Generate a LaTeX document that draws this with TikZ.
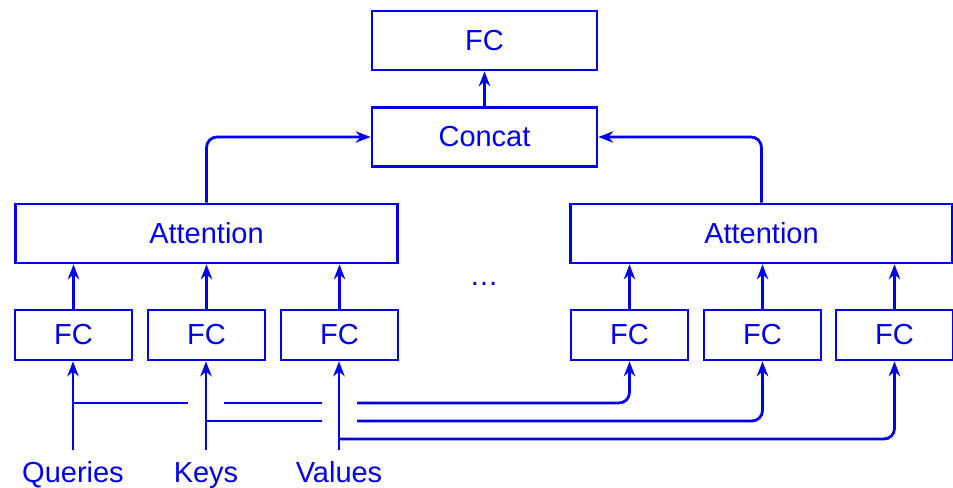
\documentclass[tikz,border=0pt]{standalone}
\usepackage{fontspec}
\setmainfont{Liberation Sans}
\usetikzlibrary{arrows.meta}
\definecolor{netblue}{RGB}{0,0,235}
\tikzset{
  blk/.style={draw=netblue, line width=1.6pt, text=netblue, inner sep=0pt,
    font=\fontsize{16.5}{19}\selectfont},
  bigblk/.style={blk, minimum width=4.5cm, minimum height=1.18cm},
  attblk/.style={blk, minimum width=7.64cm, minimum height=1.18cm},
  fcblk/.style={blk, minimum width=2.34cm, minimum height=1.0cm},
  wire/.style={draw=netblue, line width=1.6pt, rounded corners=6pt},
  tip/.style={wire, -{Stealth[length=8.5pt,width=6.5pt]}},
  lbl/.style={text=netblue, anchor=base, font=\fontsize{16.5}{19}\selectfont},
}
\begin{document}
\begin{tikzpicture}[x=0.02cm,y=-0.02cm]
      \useasboundingbox (0,0) rectangle (953,487);

      % top of the head
      \node[bigblk]  (fc)     at (484.5,40.5)  {FC};
      \node[bigblk]  (concat) at (484.5,137)   {Concat};
      \node[attblk]  (attL)   at (206.5,233.5) {Attention};
      \node[attblk]  (attR)   at (761.5,233.5) {Attention};
      \node[lbl]     (dots)   at (484,285)     {\dots};

      % linear layers
      \node[fcblk]   (qL) at (73.5,335)  {FC};
      \node[fcblk]   (kL) at (206.5,335) {FC};
      \node[fcblk]   (vL) at (339.5,335) {FC};
      \node[fcblk]   (qR) at (629.5,335) {FC};
      \node[fcblk]   (kR) at (762.5,335) {FC};
      \node[fcblk]   (vR) at (894.5,335) {FC};

      % inputs
      \node[lbl]     (queries) at (73,482)  {Queries};
      \node[lbl]     (keys)    at (206,482) {Keys};
      \node[lbl]     (values)  at (339,482) {Values};
      \coordinate    (qin) at (73,450);
      \coordinate    (kin) at (206,450);
      \coordinate    (vin) at (339,450);

      \draw[tip] (concat.north) -- (fc.south);
      \draw[tip] (attL.north) |- (concat.west);
      \draw[tip] (attR.north) |- (concat.east);

      \draw[tip] (qL.north) -- (qL.north |- attL.south);
      \draw[tip] (kL.north) -- (kL.north |- attL.south);
      \draw[tip] (vL.north) -- (vL.north |- attL.south);
      \draw[tip] (qR.north) -- (qR.north |- attR.south);
      \draw[tip] (kR.north) -- (kR.north |- attR.south);
      \draw[tip] (vR.north) -- (vR.north |- attR.south);

      \draw[tip] (qin) -- (qin |- qL.south);
      \draw[tip] (kin) -- (kin |- kL.south);
      \draw[tip] (vin) -- (vin |- vL.south);

      % buses to the other head, broken where they cross
      \draw[wire] (73,403) -- (188,403);
      \draw[wire] (224,403) -- (322,403);
      \draw[tip]  (357,403) -| (qR.south);
      \draw[wire] (206,421) -- (322,421);
      \draw[tip]  (357,421) -| (kR.south);
      \draw[tip]  (339,439) -| (vR.south);
    \end{tikzpicture}
\end{document}
